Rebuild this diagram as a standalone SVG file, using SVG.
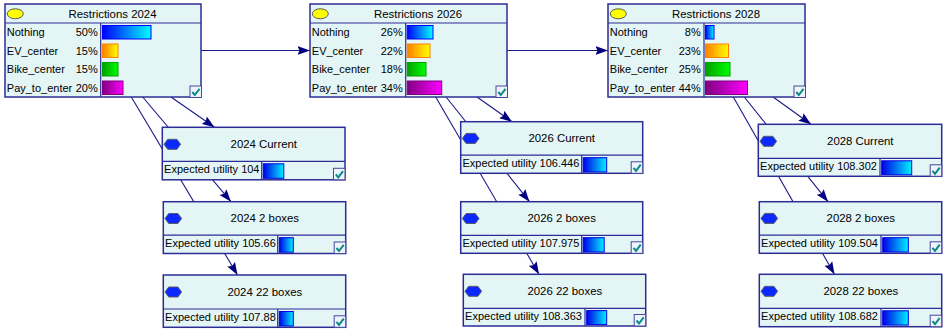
<svg xmlns="http://www.w3.org/2000/svg" xmlns:xlink="http://www.w3.org/1999/xlink" width="943" height="330" viewBox="0 0 943 330">
<defs>
<style>
text{font-family:"Liberation Sans",Arial,sans-serif;font-size:11px;fill:#000}
.ttl{font-size:11.4px;text-anchor:middle}
.r{text-anchor:end}
.bg{fill:#e4f5f5;stroke:#2c2c96;stroke-width:1.5}
.sep{stroke:#2c2c96;stroke-width:1.2}
.link{stroke:#1a1a8a;stroke-width:1.1;fill:none}
.ell{fill:#ffff00;stroke:#5a5a5a;stroke-width:1}
.hex{fill:#0a28ff;stroke:#5a5a6a;stroke-width:1}
.bb{fill:url(#gBlue);stroke:#0000ff;stroke-width:1}
.bo{fill:url(#gOrange);stroke:#ff8000;stroke-width:1}
.bgn{fill:url(#gGreen);stroke:#00a000;stroke-width:1}
.bp{fill:url(#gPurple);stroke:#800080;stroke-width:1}
.bu{fill:url(#gUtil);stroke:#0000e0;stroke-width:1}
</style>
<linearGradient id="gBlue" x1="0" y1="0" x2="1" y2="0"><stop offset="0" stop-color="#0000ff"/><stop offset="1" stop-color="#00ffff"/></linearGradient>
<linearGradient id="gUtil" x1="0" y1="0" x2="1" y2="0"><stop offset="0" stop-color="#0000e8"/><stop offset="1" stop-color="#00f0ff"/></linearGradient>
<linearGradient id="gOrange" x1="0" y1="0" x2="1" y2="0"><stop offset="0" stop-color="#ff8000"/><stop offset="1" stop-color="#ffff00"/></linearGradient>
<linearGradient id="gGreen" x1="0" y1="0" x2="1" y2="0"><stop offset="0" stop-color="#00a000"/><stop offset="1" stop-color="#00ff00"/></linearGradient>
<linearGradient id="gPurple" x1="0" y1="0" x2="1" y2="0"><stop offset="0" stop-color="#800080"/><stop offset="1" stop-color="#ff00ff"/></linearGradient>
<marker id="arr" markerUnits="userSpaceOnUse" markerWidth="13" markerHeight="10" refX="12.5" refY="5" orient="auto">
<path d="M0,0.5 L12.5,5 L0,9.5 L2,5 z" fill="#000080"/>
</marker>
<g id="chk">
<rect x="0" y="0" width="11.5" height="11.5" fill="#eef4fa" stroke="#4848a0" stroke-width="1"/>
<path d="M2.3,6 L4.8,9 L9.5,2.8" stroke="#0a8a8a" stroke-width="2" fill="none"/>
</g>
<polygon id="hx" class="hex" points="-8.3,0 -4.6,-5 4.6,-5 8.3,0 4.6,5 -4.6,5"/>
</defs>

<g id="connectors">
<line class="link" x1="201" y1="50.5" x2="310" y2="50.5" marker-end="url(#arr)"/>
<line class="link" x1="507" y1="50.5" x2="608" y2="50.5" marker-end="url(#arr)"/>
<line class="link" x1="171" y1="97" x2="214.5" y2="127.3" marker-end="url(#arr)"/>
<line class="link" x1="142.7" y1="97" x2="231" y2="201.7" marker-end="url(#arr)"/>
<line class="link" x1="131.3" y1="97" x2="237.5" y2="275" marker-end="url(#arr)"/>
<line class="link" x1="477" y1="97" x2="512" y2="121.7" marker-end="url(#arr)"/>
<line class="link" x1="446.1" y1="97" x2="529.5" y2="201.7" marker-end="url(#arr)"/>
<line class="link" x1="435.7" y1="97" x2="539" y2="274.3" marker-end="url(#arr)"/>
<line class="link" x1="773.1" y1="97" x2="811" y2="124.3" marker-end="url(#arr)"/>
<line class="link" x1="744.3" y1="97" x2="828" y2="201.7" marker-end="url(#arr)"/>
<line class="link" x1="733.3" y1="97" x2="834.5" y2="274.3" marker-end="url(#arr)"/>
</g>

<g id="restrictions2024" transform="translate(5,4)">
<rect class="bg" x="0" y="0" width="196" height="93"/>
<line class="sep" x1="0" y1="19" x2="196" y2="19"/>
<line class="sep" x1="95.7" y1="19" x2="95.7" y2="93"/>
<ellipse class="ell" cx="10.3" cy="9.8" rx="8" ry="5"/>
<text class="ttl" x="107.5" y="13.6">Restrictions 2024</text>
<text x="1.8" y="32.3">Nothing</text><text class="r" x="92.7" y="32.3">50%</text>
<text x="1.8" y="50.8">EV_center</text><text class="r" x="92.7" y="50.8">15%</text>
<text x="1.8" y="69.3">Bike_center</text><text class="r" x="92.7" y="69.3">15%</text>
<text x="1.8" y="87.8">Pay_to_enter</text><text class="r" x="92.7" y="87.8">20%</text>
<rect class="bb" x="97.5" y="21.5" width="48.5" height="13.5"/>
<rect class="bo" x="97.5" y="40" width="15.5" height="13.5"/>
<rect class="bgn" x="97.5" y="58.5" width="15.5" height="13.5"/>
<rect class="bp" x="97.5" y="77" width="20.5" height="13.5"/>
<use xlink:href="#chk" x="185" y="82"/>
</g>

<g id="restrictions2026" transform="translate(310,4)">
<rect class="bg" x="0" y="0" width="197" height="93"/>
<line class="sep" x1="0" y1="19" x2="197" y2="19"/>
<line class="sep" x1="95.7" y1="19" x2="95.7" y2="93"/>
<ellipse class="ell" cx="10.3" cy="9.8" rx="8" ry="5"/>
<text class="ttl" x="108" y="13.6">Restrictions 2026</text>
<text x="1.8" y="32.3">Nothing</text><text class="r" x="92.7" y="32.3">26%</text>
<text x="1.8" y="50.8">EV_center</text><text class="r" x="92.7" y="50.8">22%</text>
<text x="1.8" y="69.3">Bike_center</text><text class="r" x="92.7" y="69.3">18%</text>
<text x="1.8" y="87.8">Pay_to_enter</text><text class="r" x="92.7" y="87.8">34%</text>
<rect class="bb" x="97.2" y="21.5" width="25.8" height="13.5"/>
<rect class="bo" x="97.2" y="40" width="22.8" height="13.5"/>
<rect class="bgn" x="97.2" y="58.5" width="18.8" height="13.5"/>
<rect class="bp" x="97.2" y="77" width="34.5" height="13.5"/>
<use xlink:href="#chk" x="186" y="82"/>
</g>

<g id="restrictions2028" transform="translate(608,4)">
<rect class="bg" x="0" y="0" width="197" height="93"/>
<line class="sep" x1="0" y1="19" x2="197" y2="19"/>
<line class="sep" x1="96" y1="19" x2="96" y2="93"/>
<ellipse class="ell" cx="10.3" cy="9.8" rx="8" ry="5"/>
<text class="ttl" x="108" y="13.6">Restrictions 2028</text>
<text x="1.8" y="32.3">Nothing</text><text class="r" x="92.7" y="32.3">8%</text>
<text x="1.8" y="50.8">EV_center</text><text class="r" x="92.7" y="50.8">23%</text>
<text x="1.8" y="69.3">Bike_center</text><text class="r" x="92.7" y="69.3">25%</text>
<text x="1.8" y="87.8">Pay_to_enter</text><text class="r" x="92.7" y="87.8">44%</text>
<rect class="bb" x="97.5" y="21.5" width="8.5" height="13.5"/>
<rect class="bo" x="97.5" y="40" width="23" height="13.5"/>
<rect class="bgn" x="97.5" y="58.5" width="24.5" height="13.5"/>
<rect class="bp" x="97.5" y="77" width="42" height="13.5"/>
<use xlink:href="#chk" x="186" y="82"/>
</g>

<g id="current2024" transform="translate(162.3,127.3)">
<rect class="bg" x="0" y="0" width="182.7" height="52.5"/>
<line class="sep" x1="0" y1="34" x2="182.7" y2="34"/>
<line class="sep" x1="99.4" y1="34" x2="99.4" y2="52.5"/>
<use xlink:href="#hx" x="10" y="17"/>
<text class="ttl" x="101.5" y="20.5">2024 Current</text>
<text x="1.8" y="45.5">Expected utility 104</text>
<rect class="bu" x="101" y="36.5" width="20.5" height="14.5"/>
<use xlink:href="#chk" x="171.2" y="41"/>
</g>

<g id="boxes2_2024" transform="translate(163.3,201.7)">
<rect class="bg" x="0" y="0" width="182.4" height="51.8"/>
<line class="sep" x1="0" y1="33.5" x2="182.4" y2="33.5"/>
<line class="sep" x1="114.4" y1="33.5" x2="114.4" y2="51.8"/>
<use xlink:href="#hx" x="10" y="16.8"/>
<text class="ttl" x="101.5" y="20.3">2024 2 boxes</text>
<text x="1.8" y="45.2">Expected utility 105.66</text>
<rect class="bu" x="116" y="36" width="14" height="14.5"/>
<use xlink:href="#chk" x="170.9" y="40.3"/>
</g>

<g id="boxes22_2024" transform="translate(163.3,275)">
<rect class="bg" x="0" y="0" width="182.4" height="52.3"/>
<line class="sep" x1="0" y1="34" x2="182.4" y2="34"/>
<line class="sep" x1="114.4" y1="34" x2="114.4" y2="52.3"/>
<use xlink:href="#hx" x="10" y="17"/>
<text class="ttl" x="101.5" y="20.5">2024 22 boxes</text>
<text x="1.8" y="45.6">Expected utility 107.88</text>
<rect class="bu" x="116" y="36.5" width="14" height="14.5"/>
<use xlink:href="#chk" x="170.9" y="40.8"/>
</g>

<g id="current2026" transform="translate(460.7,121.7)">
<rect class="bg" x="0" y="0" width="182" height="51.6"/>
<line class="sep" x1="0" y1="33.4" x2="182" y2="33.4"/>
<line class="sep" x1="121" y1="33.4" x2="121" y2="51.6"/>
<use xlink:href="#hx" x="10" y="16.7"/>
<text class="ttl" x="101" y="20.2">2026 Current</text>
<text x="1.8" y="45.2">Expected utility 106.446</text>
<rect class="bu" x="122.5" y="36" width="23.5" height="14.3"/>
<use xlink:href="#chk" x="170.5" y="40.1"/>
</g>

<g id="boxes2_2026" transform="translate(460.7,201.7)">
<rect class="bg" x="0" y="0" width="182" height="51.6"/>
<line class="sep" x1="0" y1="33.6" x2="182" y2="33.6"/>
<line class="sep" x1="121" y1="33.6" x2="121" y2="51.6"/>
<use xlink:href="#hx" x="10" y="16.8"/>
<text class="ttl" x="101" y="20.3">2026 2 boxes</text>
<text x="1.8" y="45.3">Expected utility 107.975</text>
<rect class="bu" x="122.5" y="36" width="21" height="14.3"/>
<use xlink:href="#chk" x="170.5" y="40.1"/>
</g>

<g id="boxes22_2026" transform="translate(463.3,274.3)">
<rect class="bg" x="0" y="0" width="182.4" height="51.7"/>
<line class="sep" x1="0" y1="34" x2="182.4" y2="34"/>
<line class="sep" x1="121.7" y1="34" x2="121.7" y2="51.7"/>
<use xlink:href="#hx" x="10" y="17"/>
<text class="ttl" x="101.5" y="20.5">2026 22 boxes</text>
<text x="1.8" y="45.5">Expected utility 108.363</text>
<rect class="bu" x="123.4" y="36.3" width="20" height="14"/>
<use xlink:href="#chk" x="170.9" y="40.2"/>
</g>

<g id="current2028" transform="translate(758.3,124.3)">
<rect class="bg" x="0" y="0" width="183.4" height="52"/>
<line class="sep" x1="0" y1="34" x2="183.4" y2="34"/>
<line class="sep" x1="121.7" y1="34" x2="121.7" y2="52"/>
<use xlink:href="#hx" x="10" y="17"/>
<text class="ttl" x="102" y="20.5">2028 Current</text>
<text x="1.8" y="45.5">Expected utility 108.302</text>
<rect class="bu" x="123.4" y="36.5" width="30" height="14"/>
<use xlink:href="#chk" x="171.9" y="40.5"/>
</g>

<g id="boxes2_2028" transform="translate(759.3,201.7)">
<rect class="bg" x="0" y="0" width="182.4" height="51.6"/>
<line class="sep" x1="0" y1="33.4" x2="182.4" y2="33.4"/>
<line class="sep" x1="121.7" y1="33.4" x2="121.7" y2="51.6"/>
<use xlink:href="#hx" x="10" y="16.7"/>
<text class="ttl" x="101.5" y="20.2">2028 2 boxes</text>
<text x="1.8" y="45.2">Expected utility 109.504</text>
<rect class="bu" x="123.4" y="36" width="25.6" height="14.3"/>
<use xlink:href="#chk" x="170.9" y="40.1"/>
</g>

<g id="boxes22_2028" transform="translate(759.3,274.3)">
<rect class="bg" x="0" y="0" width="182.4" height="52.4"/>
<line class="sep" x1="0" y1="34" x2="182.4" y2="34"/>
<line class="sep" x1="121.7" y1="34" x2="121.7" y2="52.4"/>
<use xlink:href="#hx" x="10" y="17"/>
<text class="ttl" x="101.5" y="20.5">2028 22 boxes</text>
<text x="1.8" y="45.6">Expected utility 108.682</text>
<rect class="bu" x="123.4" y="36.5" width="25.6" height="14.3"/>
<use xlink:href="#chk" x="170.9" y="40.9"/>
</g>
</svg>
